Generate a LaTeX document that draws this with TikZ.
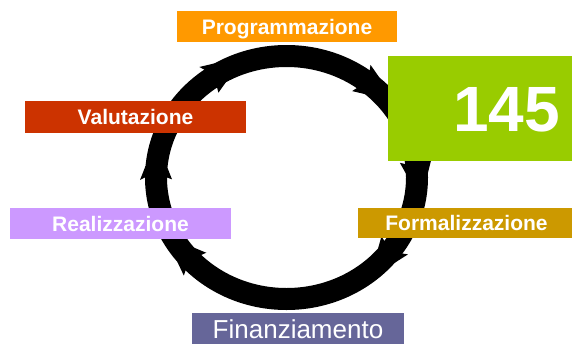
\documentclass[tikz,border=0pt]{standalone}
\usepackage{fontspec}
\setmainfont{Liberation Sans}

\definecolor{progorange}{HTML}{FF9900}
\definecolor{numgreen}{HTML}{99CC00}
\definecolor{formgold}{HTML}{CC9900}
\definecolor{valred}{HTML}{CC3300}
\definecolor{realilac}{HTML}{CC99FF}
\definecolor{finpurple}{HTML}{666699}

\tikzset{
    phase/.style={inner sep=0pt, text=white, text height=15pt, text depth=0pt,
        font=\fontsize{21}{25}\selectfont\bfseries},
}

\begin{document}
\begin{tikzpicture}[x=1pt,y=-1pt]
    \useasboundingbox(0,0)rectangle(572,343);

    \draw[line width=22pt](286.5,177.5)ellipse[x radius=130.5, y radius=121.5];
    \foreach \a[evaluate=\a as \b using \a-1, evaluate=\a as \c using \a+5] in {35,135.5,180,234.5,306,353}{
        \fill[shift={(286.5,177.5)}](\a:141.5 and 132.5)--(\b:146.5 and 137.5)--(\c:141.5 and 132.5)
            --(\c:119.5 and 110.5)--(\b:114.5 and 105.5)--(\a:119.5 and 110.5)--cycle;
    }

    \node[phase, fill=progorange, minimum width=220pt, minimum height=31pt](prog)at(287,26.5){Programmazione};
    \node[phase, fill=numgreen, minimum height=105pt, text width=157pt, inner xsep=15pt, align=right,
        text height=46pt, font=\fontsize{64}{70}\selectfont\bfseries](num)at(481.5,108.5){145};
    \node[phase, fill=formgold, minimum width=217pt, minimum height=30pt](form)at(466.5,223){Formalizzazione};
    \node[phase, fill=finpurple, minimum width=212pt, minimum height=31pt, text height=19pt,
        font=\fontsize{26}{30}\selectfont](fin)at(298,328.5){Finanziamento};
    \node[phase, fill=realilac, minimum width=221pt, minimum height=31pt](real)at(120.5,223.5){Realizzazione};
    \node[phase, fill=valred, minimum width=221pt, minimum height=32pt](val)at(135.5,117){Valutazione};
\end{tikzpicture}
\end{document}
